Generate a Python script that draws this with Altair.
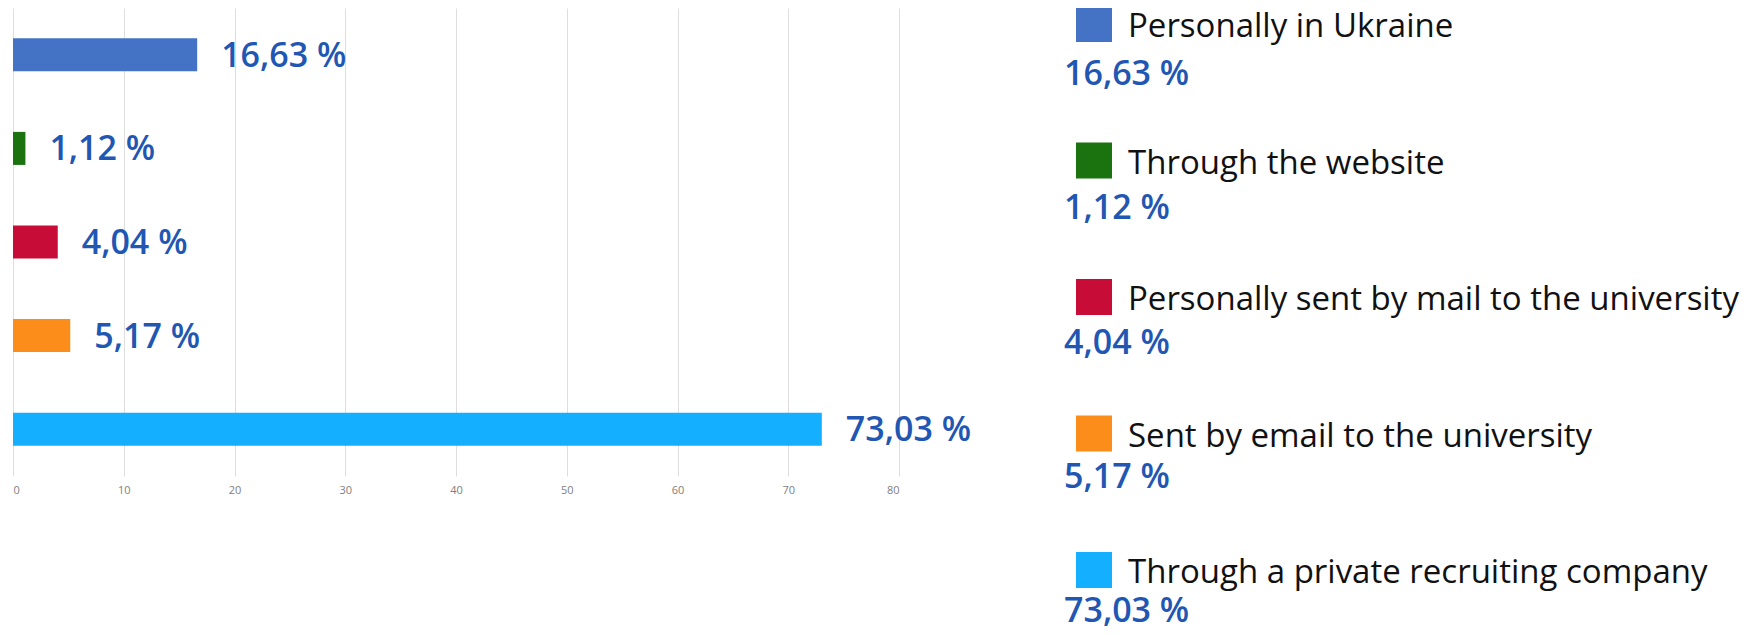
import altair as alt
import pandas as pd

categories = [
    "Personally in Ukraine",
    "Through the website",
    "Personally sent by mail to the university",
    "Sent by email to the university",
    "Through a private recruiting company",
]
values = [16.63, 1.12, 4.04, 5.17, 73.03]
colors = ["#4472C4", "#1A730F", "#C70C38", "#FC8D1B", "#14B0FF"]
x_ticks = [0, 10, 20, 30, 40, 50, 60, 70, 80]

df = pd.DataFrame({"category": categories, "value": values})
df["label"] = [f"{v:.2f}".replace(".", ",") + " %" for v in values]

W, H = 886, 468
VALUE_BLUE = "#2157B3"

base = alt.Chart(df)

y_bar = alt.Y(
    "category:N", sort=categories, axis=None,
    scale=alt.Scale(type="band", paddingInner=0.647, paddingOuter=0.3235),
)
color = alt.Color("category:N", scale=alt.Scale(domain=categories, range=colors), legend=None)

bars = base.mark_bar().encode(
    x=alt.X(
        "value:Q",
        scale=alt.Scale(domain=[0, 80], nice=False, zero=True),
        axis=alt.Axis(
            values=x_ticks, grid=True, gridColor="#dedede", gridWidth=1,
            domain=False, ticks=False, labelFont="Open Sans", labelFontSize=11,
            labelColor="#808080", labelPadding=8, title=None,
        ),
    ),
    y=y_bar,
    color=color,
)

bar_text = base.mark_text(
    align="left", baseline="alphabetic", dx=24, dy=12,
    font="Open Sans", fontSize=34, fontWeight=600, color=VALUE_BLUE,
).encode(x="value:Q", y=y_bar, text="label:N")

leg_y = alt.Y(
    "category:N", sort=categories, axis=None,
    scale=alt.Scale(type="point", range=[16, 562], padding=0),
)

squares = base.mark_square(size=1296, opacity=1, filled=True).encode(
    x=alt.value(1081), y=leg_y, color=color
)

leg_text = base.mark_text(
    align="left", baseline="alphabetic", dy=13,
    font="Open Sans", fontSize=33, color="#111111",
).encode(x=alt.value(1115), y=leg_y, text="category:N")

leg_val = base.mark_text(
    align="left", baseline="alphabetic",
    font="Open Sans", fontSize=34, fontWeight=600, color=VALUE_BLUE,
).encode(
    x=alt.value(1051),
    y=alt.Y("category:N", sort=categories, axis=None,
            scale=alt.Scale(type="point", range=[77, 614], padding=0)),
    text="label:N",
)

chart = (
    alt.layer(alt.layer(bars, bar_text), squares, leg_text, leg_val)
    .resolve_scale(y="independent")
    .properties(
        width=W, height=H,
        autosize=alt.AutoSizeParams(type="none"),
        padding={"left": 5, "top": 0, "right": 847, "bottom": 151},
    )
    .configure_view(stroke=None)
)

chart.save("out.html", embed_options={"renderer": "svg", "actions": False})
